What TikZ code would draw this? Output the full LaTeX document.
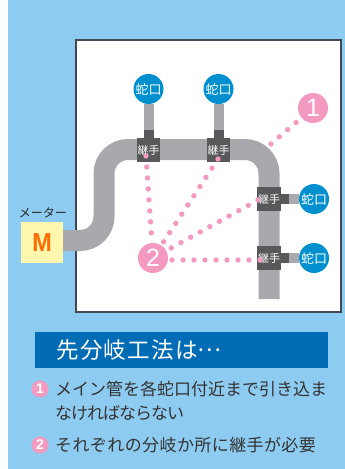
\documentclass[tikz,border=0pt]{standalone}
\usepackage{fontspec}
\setmainfont{Liberation Sans}
\newfontfamily\jpfont{Noto Sans CJK JP}
\newfontfamily\jptitle[LetterSpace=6]{Noto Sans CJK JP}
\newfontfamily\jpnarrow[LetterSpace=-6]{Noto Sans CJK JP}
\newfontfamily\jpwide[LetterSpace=2.4]{Noto Sans CJK JP}
\newfontfamily\jpdots[RawFeature={+fwid}]{Noto Sans CJK JP}
\usetikzlibrary{positioning}
\definecolor{skyback}{HTML}{8ECBF0}
\definecolor{pipegray}{HTML}{A7A9AC}
\definecolor{jointgray}{HTML}{58595B}
\definecolor{tapblue}{HTML}{0090CF}
\definecolor{badgepink}{HTML}{F49AC1}
\definecolor{barblue}{HTML}{006CB5}
\definecolor{meteryellow}{HTML}{FFF7AE}
\definecolor{panelline}{HTML}{3F4A55}
\tikzset{
  pipe/.style={draw=pipegray,line width=21pt},
  tapline/.style={draw=pipegray,line width=10pt},
  stub/.style={draw=jointgray,line width=10pt},
  joint/.style={fill=jointgray,minimum width=23.5pt,minimum height=24pt,inner sep=0pt,
    text=white,font=\jpfont\fontsize{11}{11}\selectfont},
  tap/.style={circle,fill=tapblue,minimum size=30pt,inner sep=0pt,
    text=white,font=\jpfont\fontsize{13}{13}\selectfont},
  badge/.style={circle,fill=badgepink,minimum size=30pt,inner sep=0pt,
    text=white,font=\fontsize{25}{25}\selectfont},
  smallbadge/.style={circle,fill=badgepink,minimum size=17pt,inner sep=0pt,
    text=white,font=\bfseries\fontsize{14}{14}\selectfont},
  dots/.style={draw=badgepink,line width=5.4pt,line cap=round,dash pattern=on 0pt off 11pt},
  note/.style={anchor=west,inner sep=0pt,text=black!80,font=\fontsize{17}{17}\selectfont},
}
\begin{document}
\begin{tikzpicture}[x=1pt,y=-1pt]
\useasboundingbox (0,0) rectangle (345,469);
\fill[skyback] (8,0) rectangle (345,469);
\draw[panelline,fill=white,line width=1.5pt] (76,40) rectangle (341,312);

% meter
\node[fill=meteryellow,minimum width=42pt,minimum height=41pt,inner sep=0pt] (meter) at (42,242.5) {};
\node[text=orange!85!red,font=\bfseries\fontsize{26}{26}\selectfont,xscale=0.9] (meterM) at (42,242.5) {M};
\node[inner sep=0pt,text=black!85,font=\jpfont\fontsize{12}{12}\selectfont] (meterLabel) at (43,213) {メーター};

% taps
\node[tap] (tapA) at (148.5,89) {蛇口};
\node[tap] (tapB) at (218.5,89) {蛇口};
\node[tap] (tapC) at (314,199) {蛇口};
\node[tap] (tapD) at (314,258) {蛇口};

% joints
\coordinate (mainStart) at (63,240.5);
\coordinate (mainEnd) at (269,299);
\draw[pipe,rounded corners=24pt] (mainStart) -- (104,240.5) -- (104,149.5) -- (269,149.5) -- (mainEnd);
\node[joint] (jointA) at (148.5,150) {継手};
\node[joint] (jointB) at (218.5,150) {継手};
\node[joint] (jointC) at (269,199) {継手};
\node[joint] (jointD) at (269,258) {継手};

\draw[tapline] (tapA) -- (jointA);
\draw[tapline] (tapB) -- (jointB);
\draw[tapline] (tapC) -- (jointC);
\draw[tapline] (tapD) -- (jointD);
\draw[stub] (jointA.north) -- ++(0,-8);
\draw[stub] (jointB.north) -- ++(0,-8);
\draw[stub] (jointC.east) -- ++(8,0);
\draw[stub] (jointD.east) -- ++(8,0);

% pink dots
\node[badge] (badgeOne) at (313,108) {1};
\node[badge] (badgeTwo) at (153,258) {2};
\coordinate (dotA) at (146,156);
\coordinate (dotB) at (218,159);
\coordinate (dotC) at (258,200);
\coordinate (dotD) at (260,260);
\coordinate (dotF) at (165,260);
\coordinate (dotE) at (271,144);
\draw[dots] (dotA) -- (badgeTwo);
\draw[dots] (dotB) -- (badgeTwo);
\draw[dots] (dotC) -- (badgeTwo);
\draw[dots] (dotD) -- (dotF);
\draw[dots] (dotE) -- (badgeOne);

% title and notes
\node[fill=barblue,minimum width=293pt,minimum height=36pt,inner sep=0pt] (titleBar) at (181.5,350) {};
\node[anchor=west,inner sep=0pt,text=white,font=\jptitle\fontsize{22.5}{22.5}\selectfont] (titleText) at (56,350) {先分岐工法は\raisebox{7pt}{\jpdots …}};
\node[smallbadge] (noteOne) at (40,389) {1};
\node[smallbadge] (noteTwo) at (40,445) {2};
\node[note] (lineOne) at (55,389) {\jpfont メイン管を各蛇口付近まで引き込ま};
\node[note] (lineTwo) at (55,413) {\jpnarrow なければならない};
\node[note] (lineThree) at (55,445) {\jpwide それぞれの分岐か所に継手が必要};
\end{tikzpicture}
\end{document}
